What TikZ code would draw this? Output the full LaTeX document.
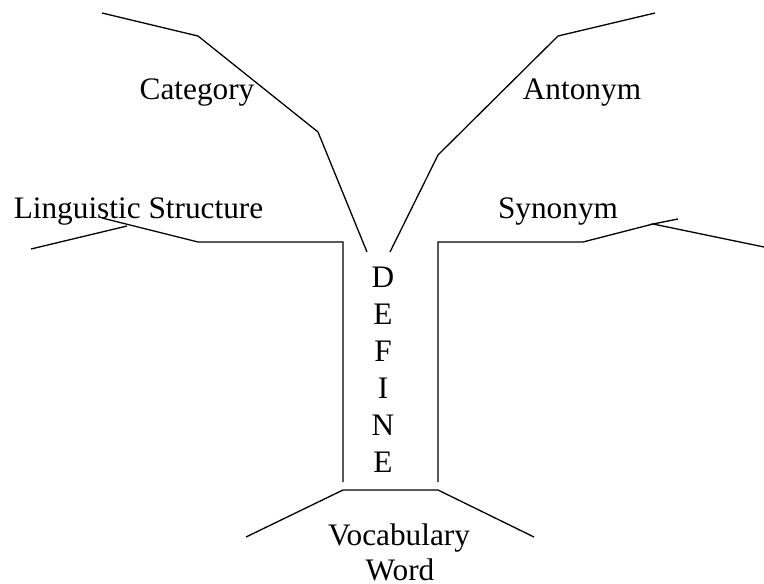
\documentclass[tikz,border=0pt]{standalone}
\usepackage{fontspec}
\setmainfont{Liberation Serif}
\begin{document}
\begin{tikzpicture}[x=1pt,y=-1pt,
  stroke/.style={line width=1.3pt,line join=miter},
  lbl/.style={anchor=base,inner sep=0pt,font=\fontsize{31.3}{37}\selectfont}]
\useasboundingbox (0,0) rectangle (764,584);
% coordinates
\coordinate (c1) at (102,13);
\coordinate (c2) at (198,36);
\coordinate (c3) at (318,132);
\coordinate (c4) at (367,252);
\coordinate (a1) at (655,13);
\coordinate (a2) at (558,36);
\coordinate (a3) at (438,155);
\coordinate (a4) at (390,252);
\coordinate (l1) at (31,249);
\coordinate (l2) at (127,226);
\coordinate (l3) at (102,218);
\coordinate (l4) at (198,242);
\coordinate (l5) at (343,242);
\coordinate (l6) at (343,482);
\coordinate (s1) at (678,219);
\coordinate (s2) at (653,224);
\coordinate (s3) at (764,247);
\coordinate (s4) at (583,242);
\coordinate (s5) at (438,242);
\coordinate (s6) at (438,482);
\coordinate (b1) at (246,537);
\coordinate (b2) at (343,490);
\coordinate (b3) at (438,490);
\coordinate (b4) at (534,537);
% lines
\draw[stroke] (c1) -- (c2) -- (c3) -- (c4);
\draw[stroke] (a1) -- (a2) -- (a3) -- (a4);
\draw[stroke] (l1) -- (l2);
\draw[stroke] (l3) -- (l4) -- (l5) -- (l6);
\draw[stroke] (s1) -- (s2) -- (s3);
\draw[stroke] (s2) -- (s4) -- (s5) -- (s6);
\draw[stroke] (b1) -- (b2) -- (b3) -- (b4);
% labels
\node[lbl] (cat) at (197,99) {Category};
\node[lbl] (ant) at (582,99) {Antonym};
\node[lbl] (ling) at (138.5,218) {Linguistic Structure};
\node[lbl] (syn) at (558,218) {Synonym};
\node[lbl] (d1) at (383,287) {D};
\node[lbl] (d2) at (383,324) {E};
\node[lbl] (d3) at (383,361) {F};
\node[lbl] (d4) at (383,398) {I};
\node[lbl] (d5) at (383,435) {N};
\node[lbl] (d6) at (383,472) {E};
\node[lbl] (voc) at (399,545) {Vocabulary};
\node[lbl] (word) at (400,580) {Word};
\end{tikzpicture}
\end{document}
